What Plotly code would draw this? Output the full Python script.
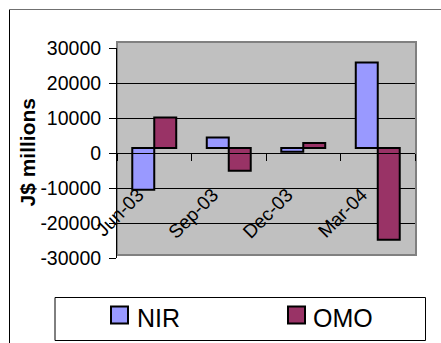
import plotly.graph_objects as go

# Quarterly flows, J$ millions
quarters = ["Jun-03", "Sep-03", "Dec-03", "Mar-04"]
nir = [-11900, 3000, -1100, 24400]
omo = [8700, -6500, 1450, -26200]

series_names = ["NIR", "OMO"]
series_colors = ["#9999FF", "#993366"]

y_ticks = [-30000, -20000, -10000, 0, 10000, 20000, 30000]
y_tick_text = [str(v) for v in y_ticks]

# front faces of the columns sit slightly above the back-wall zero line
DEPTH_SHIFT = 1430

W, H = 441, 343
L, R, T, B = 117, 26, 48, 85
PW, PH = W - L - R, H - T - B


def px(x):
    return (x - L) / PW


def py(y):
    return (H - B - y) / PH


FONT = "Liberation Sans, Arial, sans-serif"

fig = go.Figure()
for name, vals, col in zip(series_names, [nir, omo], series_colors):
    fig.add_trace(go.Bar(
        x=quarters, y=vals, base=DEPTH_SHIFT, name=name,
        marker=dict(color=col, line=dict(color="black", width=2)),
        showlegend=False,
    ))

shapes = [
    # back wall
    dict(type="rect", xref="paper", yref="paper", layer="below",
         x0=px(117), x1=px(416), y0=py(255), y1=py(42),
         fillcolor="#C0C0C0", line=dict(color="#808080", width=2)),
    # chart area frame
    dict(type="line", xref="paper", yref="paper",
         x0=px(9.5), x1=px(9.5), y0=py(9.5), y1=py(350),
         line=dict(color="black", width=1)),
    dict(type="line", xref="paper", yref="paper",
         x0=px(9.5), x1=px(450), y0=py(9.5), y1=py(9.5),
         line=dict(color="#707070", width=1)),
    # legend box
    dict(type="rect", xref="paper", yref="paper",
         x0=px(55), x1=px(425.5), y0=py(340.5), y1=py(297.5),
         fillcolor="white", line=dict(color="black", width=1)),
]
annotations = [
    dict(text="<b>J$ millions</b>", xref="paper", yref="paper",
         x=px(26.5), y=py(152), textangle=-90, showarrow=False,
         font=dict(family=FONT, size=21, color="black"),
         xanchor="center", yanchor="middle"),
]

# legend entries
legend_x = [(111, 135), (288, 311)]
for (sx, tx), name, col in zip(legend_x, series_names, series_colors):
    shapes.append(dict(type="rect", xref="paper", yref="paper",
                       x0=px(sx), x1=px(sx + 17), y0=py(323.5), y1=py(306.5),
                       fillcolor=col, line=dict(color="black", width=2)))
    annotations.append(dict(text=name, xref="paper", yref="paper",
                            x=px(tx), y=py(318), showarrow=False,
                            xanchor="left", yanchor="middle",
                            font=dict(family=FONT, size=25, color="black")))

fig.update_layout(
    width=W, height=H,
    margin=dict(l=L, r=R, t=T, b=B, pad=0),
    paper_bgcolor="white", plot_bgcolor="rgba(0,0,0,0)",
    barmode="group", bargap=0.41, bargroupgap=0,
    font=dict(family=FONT, size=19, color="black"),
    shapes=shapes, annotations=annotations,
    xaxis=dict(
        type="category", anchor="free", position=py(153.3),
        tickson="boundaries", ticks="outside", ticklen=7, tickcolor="black",
        showline=True, linecolor="black", linewidth=1,
        showgrid=False, tickangle=-45, ticklabelstandoff=22,
        ticklabelshift=-16,
        tickfont=dict(family=FONT, size=19, color="black"),
    ),
    yaxis=dict(
        range=[-30000, 30000], tickvals=y_ticks, ticktext=y_tick_text,
        showgrid=True, gridcolor="black", gridwidth=1,
        zeroline=False, showline=True, linecolor="black", linewidth=1,
        ticks="outside", ticklen=7, tickcolor="black", ticklabelstandoff=4,
        tickfont=dict(family=FONT, size=19.5, color="black"),
    ),
)

fig.write_html("out.html")
